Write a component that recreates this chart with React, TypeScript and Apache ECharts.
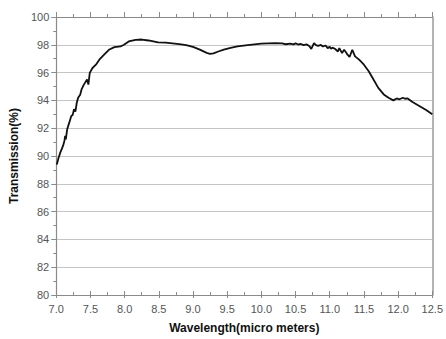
import React, { useEffect, useRef } from "react";
import * as echarts from "echarts";

const wavelength = [
  7.0, 7.01, 7.03, 7.06, 7.08, 7.1, 7.12, 7.13, 7.14, 7.16, 7.19, 7.22, 7.24, 7.26, 7.28, 7.3, 7.32, 7.35, 7.37,
  7.4, 7.42, 7.45, 7.47, 7.49, 7.53, 7.58, 7.63, 7.7, 7.77, 7.85, 7.94, 7.99, 8.06, 8.16, 8.25, 8.35, 8.49,
  8.6, 8.7, 8.8, 8.9, 9.0, 9.1, 9.2, 9.25, 9.3, 9.36, 9.45, 9.55, 9.65, 9.8, 9.9, 10.0, 10.1, 10.2, 10.3,
  10.36, 10.42, 10.47, 10.5, 10.54, 10.57, 10.62, 10.66, 10.7, 10.73, 10.77, 10.8, 10.83, 10.87, 10.9, 10.94,
  10.97, 11.0, 11.02, 11.04, 11.08, 11.12, 11.14, 11.18, 11.21, 11.24, 11.26, 11.29, 11.33, 11.37, 11.43,
  11.5, 11.57, 11.64, 11.71, 11.79, 11.86, 11.93, 11.98, 12.02, 12.07, 12.1, 12.14, 12.21, 12.31, 12.41,
  12.5,
];

const transmission = [
  89.4, 89.43, 89.8, 90.26, 90.5, 90.74, 91.1, 91.45, 91.2, 91.93, 92.4, 92.88, 92.95, 93.36, 93.2, 93.83, 94.19,
  94.4, 94.79, 95.1, 95.26, 95.5, 95.14, 95.98, 96.33, 96.57, 96.93, 97.29, 97.64, 97.83, 97.88, 98.0, 98.24,
  98.36, 98.38, 98.31, 98.17, 98.15, 98.1, 98.05, 97.98, 97.85, 97.65, 97.42, 97.35, 97.38, 97.5, 97.65,
  97.78, 97.88, 97.98, 98.03, 98.08, 98.1, 98.12, 98.1, 98.04, 98.09, 98.03, 98.1, 98.02, 98.06, 97.98,
  98.03, 97.92, 97.7, 98.12, 97.98, 97.93, 97.99, 97.88, 97.95, 97.76, 97.85, 97.72, 97.8, 97.7, 97.52,
  97.76, 97.4, 97.64, 97.45, 97.29, 97.12, 97.64, 97.17, 96.93, 96.57, 96.1, 95.5, 94.9, 94.43, 94.19,
  94.0, 94.14, 94.08, 94.19, 94.12, 94.14, 93.88, 93.6, 93.31, 93.0,
];

const xTicks = [7.0, 7.5, 8.0, 8.5, 9.0, 9.5, 10.0, 10.5, 11.0, 11.5, 12.0, 12.5];

const AXIS_COLOR = "#8a8a8a";
const LABEL_COLOR = "#555555";
const FONT = "Liberation Sans, Arial, sans-serif";

export default function App() {
  const ref = useRef<HTMLDivElement>(null);
  useEffect(() => {
    document.body.style.margin = "0";
    if (!ref.current) return;
    const chart = echarts.init(ref.current, undefined, { renderer: "svg" });
    const data = wavelength.map((w, i) => [w, transmission[i]]);
    const baseX = {
      type: "value" as const,
      min: xTicks[0],
      max: xTicks[xTicks.length - 1],
      interval: 0.5,
      splitLine: { show: false },
      axisLine: { show: true, lineStyle: { color: AXIS_COLOR, width: 1.2 } },
    };
    chart.setOption({
      animation: false,
      backgroundColor: "#ffffff",
      grid: { left: 51, right: 11, top: 17, bottom: 42 },
      xAxis: [
        {
          ...baseX,
          position: "bottom",
          name: "Wavelength(micro meters)",
          nameLocation: "middle",
          nameGap: 27,
          nameTextStyle: { fontFamily: FONT, fontWeight: "bold", fontSize: 12, color: "#111" },
          axisTick: { show: true, inside: false, length: 3, lineStyle: { color: AXIS_COLOR } },
          axisLabel: {
            color: LABEL_COLOR,
            fontFamily: FONT,
            fontSize: 11,
            margin: 8,
            formatter: (v: number) => v.toFixed(1),
          },
        },
        {
          ...baseX,
          position: "bottom",
          axisTick: { show: true, inside: true, length: 4, lineStyle: { color: AXIS_COLOR } },
          minorTick: { show: true, splitNumber: 2, length: 3, lineStyle: { color: AXIS_COLOR } },
          axisLabel: { show: false },
        },
        {
          ...baseX,
          position: "top",
          axisTick: { show: true, inside: false, length: 5, lineStyle: { color: AXIS_COLOR } },
          minorTick: { show: true, splitNumber: 2, length: 3, lineStyle: { color: AXIS_COLOR } },
          axisLabel: { show: false },
        },
      ],
      yAxis: [
        {
          type: "value",
          min: 80,
          max: 100,
          interval: 2,
          position: "left",
          name: "Transmission(%)",
          nameLocation: "middle",
          nameGap: 31,
          nameTextStyle: { fontFamily: FONT, fontWeight: "bold", fontSize: 12, color: "#111" },
          axisLine: { show: true, lineStyle: { color: AXIS_COLOR, width: 1.2 } },
          axisTick: { show: true, inside: false, length: 5, lineStyle: { color: AXIS_COLOR } },
          minorTick: { show: true, splitNumber: 2, length: 3, lineStyle: { color: AXIS_COLOR } },
          splitLine: { show: true, lineStyle: { color: "#c4c4c4", width: 1 } },
          axisLabel: { color: LABEL_COLOR, fontFamily: FONT, fontSize: 11, margin: 7 },
        },
        {
          type: "value",
          min: 80,
          max: 100,
          interval: 2,
          position: "right",
          axisLine: { show: true, lineStyle: { color: "#9a9a9a", width: 1.5 } },
          axisTick: { show: false },
          splitLine: { show: false },
          axisLabel: { show: false },
        },
      ],
      series: [
        {
          type: "line",
          data,
          xAxisIndex: 0,
          yAxisIndex: 0,
          showSymbol: false,
          symbol: "none",
          lineStyle: { color: "#111111", width: 1.8 },
        },
      ],
    });
    return () => chart.dispose();
  }, []);
  return <div ref={ref} style={{ width: 446, height: 339 }} />;
}
